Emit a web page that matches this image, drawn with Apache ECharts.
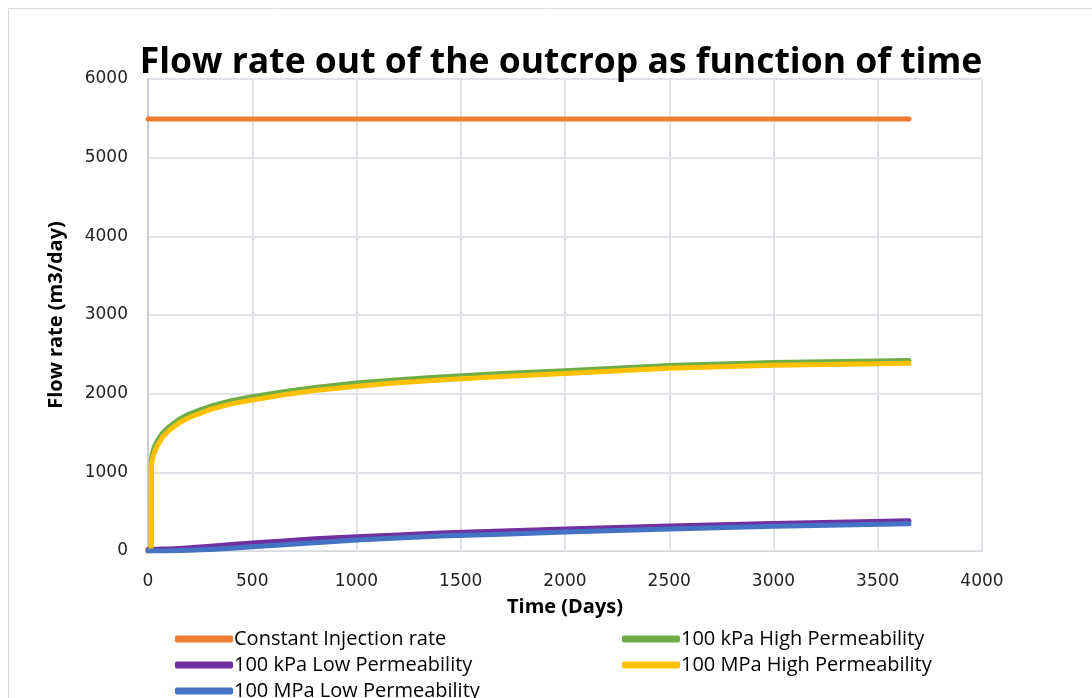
<!DOCTYPE html>
<html>
<head>
<meta charset="utf-8">
<script src="https://cdn.jsdelivr.net/npm/echarts@6/dist/echarts.min.js"></script>
<style>
html,body{margin:0;padding:0;background:#fff;}
#chart{width:1092px;height:698px;}
</style>
</head>
<body>
<div id="chart"></div>
<script>
// ---- data ----
const seriesNames = ["Constant Injection rate", "100 kPa High Permeability", "100 kPa Low Permeability", "100 MPa High Permeability", "100 MPa Low Permeability"];
const days = [0, 15, 16, 20, 30, 45, 70, 100, 150, 200, 250, 300, 400, 500, 650, 800, 1000, 1200, 1400, 1700, 2000, 2500, 3000, 3650];
const constantInjection = [5490, 5490, 5490, 5490, 5490, 5490, 5490, 5490, 5490, 5490, 5490, 5490, 5490, 5490, 5490, 5490, 5490, 5490, 5490, 5490, 5490, 5490, 5490, 5490];
const kPaHigh = [0, 0, 1150, 1230, 1320, 1400, 1500, 1575, 1675, 1745, 1795, 1840, 1910, 1960, 2025, 2080, 2135, 2178, 2212, 2256, 2292, 2358, 2396, 2422];
const kPaLow = [20, 20, 20, 20, 21, 22, 24, 26, 32, 40, 50, 62, 82, 102, 128, 155, 180, 205, 230, 255, 280, 318, 350, 385];
const MPaHigh = [0, 0, 1080, 1150, 1250, 1340, 1450, 1530, 1630, 1700, 1750, 1800, 1870, 1920, 1985, 2040, 2095, 2140, 2174, 2218, 2255, 2322, 2360, 2386];
const MPaLow = [0, 0, 0, 0, 0, 0, 1, 3, 6, 10, 15, 20, 35, 55, 80, 105, 140, 165, 190, 213, 240, 280, 315, 347];
const xTicks = {min: 0, max: 4000, interval: 500};
const yTicks = {min: 0, max: 6000, interval: 1000};

const colors = ["#ED7D31", "#70AD47", "#7030A0", "#FFC000", "#4472C4"];
const values = [constantInjection, kPaHigh, kPaLow, MPaHigh, MPaLow];
const font = "'Open Sans', sans-serif";

const chart = echarts.init(document.getElementById('chart'), null, {renderer: 'canvas'});
const series = seriesNames.map((n, i) => ({
  name: n,
  type: 'line',
  data: days.map((d, k) => [d, values[i][k]]),
  showSymbol: false,
  smooth: false,
  lineStyle: {width: 5, color: colors[i], cap: 'round', join: 'round'},
  itemStyle: {color: colors[i]},
  z: [1, 2, 2, 3, 3][i]
}));

const legendCommon = {
  orient: 'vertical',
  icon: 'roundRect',
  itemWidth: 58,
  itemHeight: 7,
  itemGap: 6,
  height: 120,
  textStyle: {fontFamily: font, fontSize: 20, color: '#000', padding: [0, 0, 0, -4]}
};

chart.setOption({
  animation: false,
  backgroundColor: '#fff',
  title: {
    text: 'Flow rate out of the outcrop as function of time',
    left: 556, textAlign: 'center', top: 40,
    textStyle: {fontFamily: font, fontWeight: 'bold', fontSize: 35.5, color: '#000'}
  },
  graphic: [{
    type: 'rect', shape: {x: 8.5, y: 8.5, width: 1200, height: 800},
    style: {fill: 'none', stroke: '#d9d9d9', lineWidth: 1}, silent: true, z: -1
  }],
  legend: [
    Object.assign({}, legendCommon, {left: 170, top: 624, data: [seriesNames[0], seriesNames[2], seriesNames[4]]}),
    Object.assign({}, legendCommon, {left: 617, top: 624, data: [seriesNames[1], seriesNames[3]]})
  ],
  grid: {left: 148, right: 110, top: 79, bottom: 147, containLabel: false},
  xAxis: {
    type: 'value', min: xTicks.min, max: xTicks.max, interval: xTicks.interval,
    name: 'Time (Days)', nameLocation: 'middle', nameGap: 46,
    nameTextStyle: {fontFamily: font, fontWeight: 'bold', fontSize: 20, color: '#000'},
    axisLine: {show: true, lineStyle: {color: '#d9d9d9', width: 1}},
    axisTick: {show: false},
    axisLabel: {fontFamily: 'DejaVu Sans', fontSize: 17, color: '#222', margin: 22, formatter: v => String(v)},
    splitLine: {show: true, lineStyle: {color: '#e0e4ea', width: 2}}
  },
  yAxis: {
    type: 'value', min: yTicks.min, max: yTicks.max, interval: yTicks.interval,
    name: 'Flow rate (m3/day)', nameLocation: 'middle', nameGap: 82, nameRotate: 90,
    nameTextStyle: {fontFamily: font, fontWeight: 'bold', fontSize: 20, color: '#000'},
    axisLine: {show: true, lineStyle: {color: '#c8ccd4', width: 2}},
    axisTick: {show: false},
    axisLabel: {fontFamily: 'DejaVu Sans', fontSize: 17, color: '#222', margin: 20, formatter: v => String(v)},
    splitLine: {show: true, lineStyle: {color: '#e0e4ea', width: 2}}
  },
  series: series
});
</script>
</body>
</html>
